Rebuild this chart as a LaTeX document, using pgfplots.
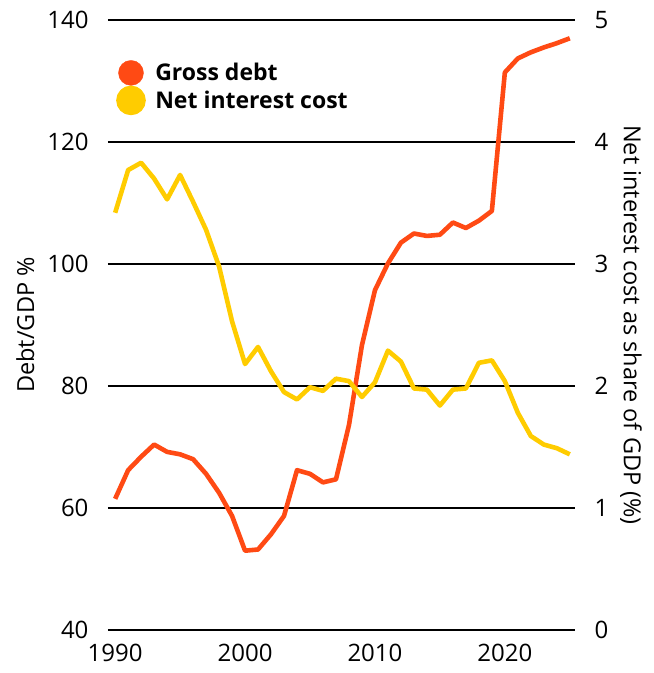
\documentclass[border=0pt]{standalone}
\usepackage{pgfplots}
\pgfplotsset{compat=1.18}
\usepackage{fontspec}
\setmainfont{Open Sans}
\definecolor{debt}{HTML}{FF4A14}
\definecolor{nic}{HTML}{FFCC00}
\begin{document}
\begin{tikzpicture}
\useasboundingbox (-108pt,-43pt) rectangle (546pt,630pt);
\begin{axis}[
  scale only axis, width=467pt, height=610pt,
  xmin=1989.45, xmax=2025.4, ymin=40, ymax=140,
  xtick={1990,2000,2010,2020}, ytick={40,60,80,100,120,140},
  axis line style={draw=none}, major tick length=0pt,
  ymajorgrids, grid style={black, line width=1.6pt},
  /pgf/number format/assume math mode=true,
  /pgf/number format/1000 sep={},
  tick label style={font=\fontsize{24}{28}\selectfont},
  yticklabel style={xshift=-16pt},
  xticklabel style={yshift=-11pt},
  ylabel={Debt/GDP \%},
  ylabel style={font=\fontsize{23.5}{28}\selectfont, yshift=6pt},
  clip=false,
]
\addplot[color=debt, line width=4.6pt, line join=round] coordinates {
(1990,61.5)(1991,66.2)(1992,68.4)(1993,70.4)(1994,69.2)(1995,68.8)(1996,68.0)(1997,65.6)(1998,62.5)(1999,58.7)
(2000,53.0)(2001,53.2)(2002,55.7)(2003,58.7)(2004,66.2)(2005,65.6)(2006,64.2)(2007,64.7)(2008,73.6)(2009,86.7)
(2010,95.7)(2011,100.1)(2012,103.5)(2013,105.0)(2014,104.6)(2015,104.8)(2016,106.8)(2017,105.9)(2018,107.1)(2019,108.7)
(2020,131.4)(2021,133.7)(2022,134.7)(2023,135.5)(2024,136.2)(2025,137.0)};
\end{axis}
\begin{axis}[
  scale only axis, width=467pt, height=610pt,
  xmin=1989.45, xmax=2025.4, ymin=0, ymax=5,
  hide x axis, axis y line*=right,
  ytick={0,1,2,3,4,5},
  axis line style={draw=none}, major tick length=0pt,
  /pgf/number format/assume math mode=true,
  tick label style={font=\fontsize{24}{28}\selectfont},
  yticklabel style={xshift=16pt},
  ylabel={Net interest cost as share of GDP (\%)},
  ylabel style={font=\fontsize{23.5}{28}\selectfont, rotate=180, yshift=5pt},
  legend style={at={(0,1)}, anchor=north west, xshift=8pt, yshift=-40pt, draw=none, fill=none,
    font=\bfseries\fontsize{23}{27}\selectfont, row sep=0pt, inner sep=0pt},
  legend cell align=left,
  legend image code/.code={\fill[#1] (0pt,0pt) circle (12.5pt); \path (20pt,0pt);},
]
\addlegendimage{color=debt}
\addlegendentry{Gross debt}
\addplot[color=nic, line width=4.6pt, line join=round] coordinates {
(1990,3.42)(1991,3.77)(1992,3.83)(1993,3.70)(1994,3.53)(1995,3.73)(1996,3.51)(1997,3.28)(1998,2.98)(1999,2.53)
(2000,2.18)(2001,2.32)(2002,2.12)(2003,1.95)(2004,1.89)(2005,1.99)(2006,1.96)(2007,2.06)(2008,2.04)(2009,1.91)
(2010,2.03)(2011,2.29)(2012,2.20)(2013,1.98)(2014,1.97)(2015,1.84)(2016,1.97)(2017,1.98)(2018,2.19)(2019,2.21)
(2020,2.04)(2021,1.78)(2022,1.59)(2023,1.52)(2024,1.49)(2025,1.44)};
\addlegendentry{Net interest cost}
\end{axis}
\end{tikzpicture}
\end{document}
